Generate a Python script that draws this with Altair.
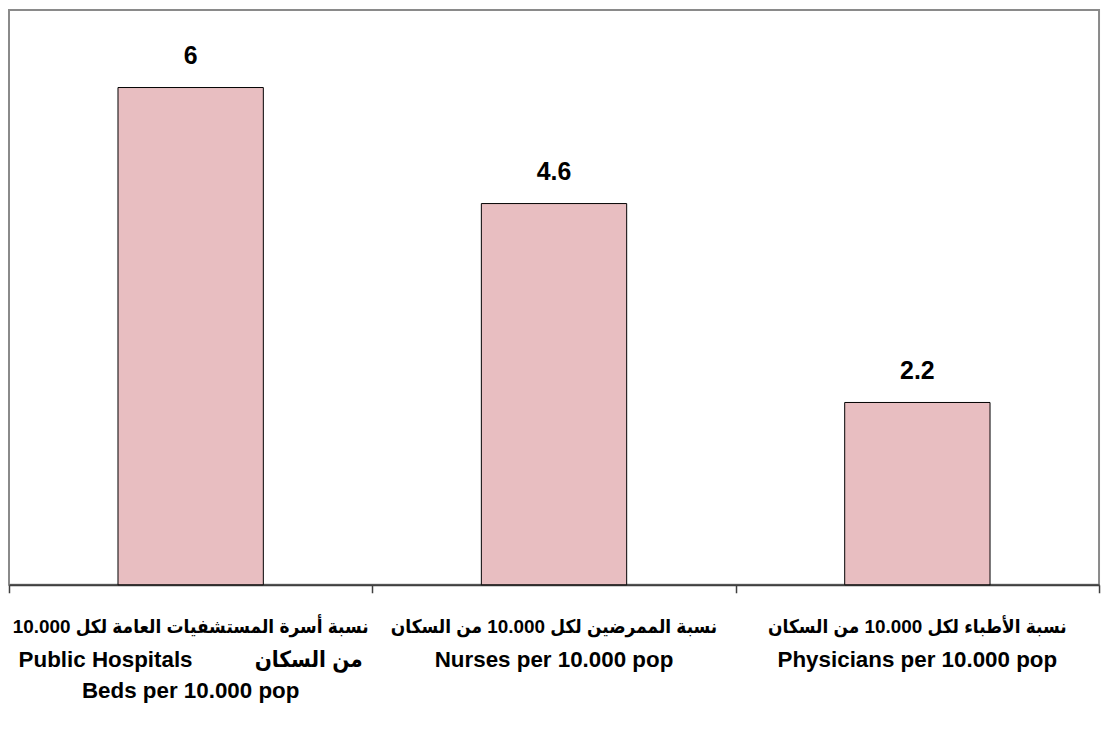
import altair as alt
import pandas as pd

categories = ["Beds", "Nurses", "Physicians"]
values = [6, 4.6, 2.2]
value_labels = ["6", "4.6", "2.2"]
label_line1 = [
    "نسبة أسرة المستشفيات العامة لكل 10.000",
    "نسبة الممرضين لكل 10.000 من السكان",
    "نسبة الأطباء لكل 10.000 من السكان",
]
label_line2 = [
    "Public Hospitals\u00a0\u00a0\u00a0\u00a0\u00a0\u00a0\u00a0\u00a0\u00a0\u00a0من السكان",
    "Nurses per 10.000 pop",
    "Physicians per 10.000 pop",
]
label_line3 = ["Beds per 10.000 pop", "", ""]

df = pd.DataFrame({
    "cat": categories,
    "val": values,
    "lab": value_labels,
    "l1": label_line1,
    "l2": label_line2,
    "l3": label_line3,
})

FONT = "Liberation Sans, Arial, sans-serif"
AR_FONT = "Liberation Sans, DejaVu Sans Condensed, DejaVu Sans, sans-serif"

x_enc = alt.X(
    "cat:N",
    sort=None,
    scale=alt.Scale(paddingInner=0, paddingOuter=0),
    axis=alt.Axis(
        title=None,
        labels=False,
        tickBand="extent",
        tickSize=8,
        tickColor="#404040",
        tickWidth=1.5,
        domainColor="#404040",
        domainWidth=2,
        grid=False,
    ),
)
y_enc = alt.Y(
    "val:Q",
    scale=alt.Scale(domain=[0, 6.936], nice=False, zero=True),
    axis=None,
)

base = alt.Chart(df)

bars = base.mark_bar(
    color="#E8BEC1", stroke="#000000", strokeWidth=1,
    width=alt.RelativeBandSize(0.4),
).encode(x=x_enc, y=y_enc)

text = base.mark_text(
    baseline="alphabetic", dy=-24, font=FONT, fontSize=25, fontWeight="bold", color="#000000"
).encode(x=alt.X("cat:N", sort=None), y=alt.Y("val:Q"), text="lab:N")

def label_layer(field, dy, size, font):
    return base.mark_text(
        baseline="alphabetic", align="center", dy=dy, font=font, fontSize=size,
        fontWeight="bold", color="#000000",
    ).encode(x=alt.X("cat:N", sort=None), y=alt.datum(0), text=f"{field}:N")

lab1 = label_layer("l1", 48, 19, AR_FONT)
lab2 = label_layer("l2", 83, 22.5, AR_FONT)
lab3 = label_layer("l3", 114, 22.5, FONT)

chart = (
    alt.layer(bars, text, lab1, lab2, lab3)
    .properties(
        width=1096,
        height=578,
        autosize=alt.AutoSizeParams(type="none"),
        padding={"left": 1, "top": 0, "right": 6, "bottom": 140},
        background="white",
    )
    .configure_view(stroke="#8a8a8a", strokeWidth=2)
)

chart.save("out.html", embed_options={"renderer": "svg", "actions": False})
